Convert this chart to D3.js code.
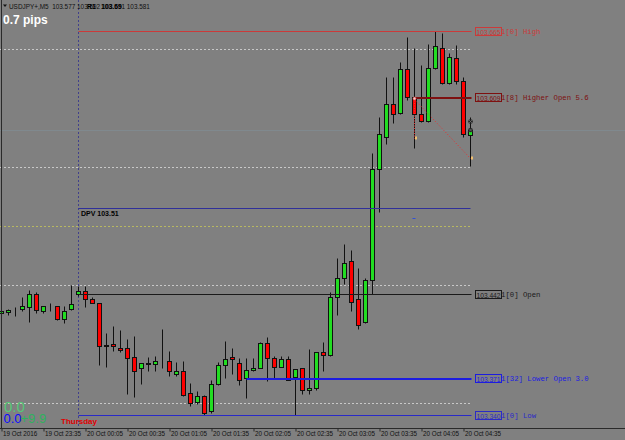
<!DOCTYPE html>
<html><head><meta charset="utf-8">
<script src="https://cdn.jsdelivr.net/npm/d3@7"></script>
<style>
html,body{margin:0;padding:0;background:#808080;}
svg{display:block;}
</style></head>
<body>
<svg id="c" width="625" height="440"></svg>
<script>
// ---------------- data ----------------
const startTime = "2016-10-19T23:05:00";
const open = [103.426,103.427,103.428,103.430,103.431,103.442,103.428,103.432,103.432,103.421,
103.430,103.442,103.445,103.438,103.435,103.398,103.400,103.397,103.397,103.389,
103.380,103.384,103.383,103.386,103.386,103.375,103.377,103.359,103.351,103.356,
103.343,103.366,103.382,103.389,103.384,103.371,103.378,103.380,103.401,103.388,
103.381,103.387,103.372,103.380,103.361,103.363,103.393,103.391,103.440,103.456,
103.470,103.438,103.419,103.454,103.548,103.575,103.603,103.596,103.633,103.609,
103.595,103.589,103.634,103.651,103.621,103.642,103.623,103.577];
const high = [103.430,103.430,103.431,103.440,103.446,103.444,103.432,103.435,103.432,103.432,
103.450,103.449,103.449,103.440,103.435,103.409,103.415,103.412,103.404,103.407,
103.384,103.389,103.390,103.413,103.394,103.385,103.386,103.367,103.360,103.357,
103.370,103.385,103.403,103.397,103.388,103.388,103.388,103.402,103.406,103.390,
103.390,103.390,103.379,103.380,103.396,103.393,103.402,103.444,103.473,103.485,
103.480,103.464,103.456,103.562,103.592,103.626,103.626,103.639,103.660,103.651,
103.636,103.654,103.665,103.663,103.646,103.653,103.626,103.592];
const low = [103.410,103.425,103.424,103.428,103.419,103.426,103.426,103.428,103.420,103.418,
103.429,103.441,103.431,103.435,103.382,103.381,103.394,103.393,103.358,103.355,
103.366,103.377,103.377,103.380,103.373,103.373,103.356,103.348,103.349,103.340,
103.342,103.365,103.371,103.375,103.365,103.354,103.377,103.380,103.369,103.371,
103.381,103.370,103.340,103.358,103.358,103.361,103.377,103.390,103.425,103.451,
103.428,103.413,103.418,103.442,103.512,103.569,103.587,103.595,103.607,103.566,
103.588,103.588,103.633,103.620,103.620,103.620,103.575,103.551];
const close = [103.428,103.429,103.428,103.432,103.442,103.429,103.432,103.432,103.421,103.428,
103.434,103.445,103.438,103.435,103.398,103.399,103.398,103.395,103.388,103.377,
103.384,103.383,103.386,103.386,103.377,103.377,103.357,103.350,103.356,103.342,
103.366,103.382,103.387,103.387,103.370,103.378,103.380,103.401,103.388,103.381,
103.387,103.370,103.379,103.361,103.363,103.393,103.391,103.440,103.456,103.469,
103.436,103.416,103.454,103.548,103.578,103.603,103.595,103.633,103.609,103.595,
103.589,103.634,103.652,103.621,103.643,103.623,103.578,103.581];

const tickLabels = ["19 Oct 2016","19 Oct 23:35","20 Oct 00:05","20 Oct 00:35","20 Oct 01:05","20 Oct 01:35",
  "20 Oct 02:05","20 Oct 02:35","20 Oct 03:05","20 Oct 03:35","20 Oct 04:05","20 Oct 04:35"];
const tickBars = [0,6,12,18,24,30,36,42,48,54,60,66];

const levelPrices = [103.665,103.609,103.442,103.371,103.340];
const levelPriceText = ["103.665","103.609","103.442","103.371","103.340"];
const levelTags = ["1[0] High","1[8] Higher Open 5.6","1[0] Open","1[32] Lower Open 3.0","1[0] Low"];
const levelStartBar = [11,59,11,35,11];
const levelColors = ["#cc3a3a","#7e1010","#1a1a1a","#1c1ce0","#2a2ac8"];
const levelWidths = [1,2,1,2,1];

const dottedGray = [103.65,103.55,103.45,103.35];
const dottedYellow = [103.50];
const dpvPrice = 103.515;
const bidPrice = 103.581;
const header = "USDJPY+,M5  103.577 103.592 103.551 103.581";

// ---------------- scales ----------------
const svg = d3.select("#c");
const W = 625, H = 440;
const t0 = new Date(startTime);
const barTime = i => d3.timeMinute.offset(t0, 5*i);
const n = open.length;
const x = d3.scaleTime().domain([barTime(0), barTime(n-1)]).range([1.5, 470.5]);
const y = d3.scaleLinear().domain([103.340, 103.665]).range([415.5, 31.5]);
const cx = i => Math.round(x(barTime(i)) - 0.5) + 0.5;
const py = p => Math.round(y(p) - 0.5) + 0.5;
const axisY = 428.5;
const plotRight = 470.5;

svg.append("rect").attr("width",W).attr("height",H).attr("fill","#808080");

// dotted levels
svg.selectAll(".dg").data(dottedGray).enter().append("line")
  .attr("x1",0).attr("x2",plotRight).attr("y1",d=>py(d)).attr("y2",d=>py(d))
  .attr("stroke","#c8c8c8").attr("stroke-dasharray","2,2").attr("stroke-width",1);
svg.selectAll(".dy").data(dottedYellow).enter().append("line")
  .attr("x1",0).attr("x2",plotRight).attr("y1",d=>py(d)).attr("y2",d=>py(d))
  .attr("stroke","#b8b860").attr("stroke-dasharray","2,2").attr("stroke-width",1);

// bid line
svg.append("line").attr("x1",0).attr("x2",W).attr("y1",py(bidPrice)).attr("y2",py(bidPrice))
  .attr("stroke","#80898e").attr("stroke-width",1);

// day separator
svg.append("line").attr("x1",cx(11)).attr("x2",cx(11)).attr("y1",0).attr("y2",axisY)
  .attr("stroke","#40408c").attr("stroke-dasharray","2,2").attr("stroke-width",1);

// candles
const bars = d3.range(n);
const g = svg.append("g");
g.selectAll(".wick").data(bars).enter().append("line")
  .attr("x1",cx).attr("x2",cx).attr("y1",i=>py(high[i])).attr("y2",i=>py(low[i]))
  .attr("stroke","#111").attr("stroke-width",1);
g.selectAll(".body").data(bars).enter().append("rect")
  .attr("x",i=>cx(i)-2).attr("width",4)
  .attr("y",i=>py(Math.max(open[i],close[i])))
  .attr("height",i=>Math.max(0, py(Math.min(open[i],close[i])) - py(Math.max(open[i],close[i]))))
  .attr("fill",i=>close[i]>=open[i] ? "#22dd22" : "#ff0000")
  .attr("stroke","#111").attr("stroke-width",1);

// DPV line
svg.append("line").attr("x1",cx(11)).attr("x2",plotRight).attr("y1",py(dpvPrice)).attr("y2",py(dpvPrice))
  .attr("stroke","#30309a").attr("stroke-width",1);
svg.append("text").attr("x",81).attr("y",py(dpvPrice)+7).attr("font-family","Liberation Sans, Arial")
  .attr("font-size",7).attr("font-weight","bold").attr("fill","#000").text("DPV   103.51");

// level lines + labels
levelPrices.forEach((p,k)=>{
  const yy = levelWidths[k]===2 ? Math.round(y(p)) : py(p);
  svg.append("line").attr("x1",cx(levelStartBar[k])).attr("x2",plotRight+1).attr("y1",yy).attr("y2",yy)
    .attr("stroke",levelColors[k]).attr("stroke-width",levelWidths[k]);
  const by = py(p);
  svg.append("rect").attr("x",475.5).attr("y",by-4).attr("width",26).attr("height",8)
    .attr("fill","none").attr("stroke",levelColors[k]).attr("stroke-width",1);
  svg.append("text").attr("x",476.5).attr("y",by+3).attr("font-family","Liberation Sans, Arial")
    .attr("font-size",7.4).attr("textLength",24).attr("lengthAdjust","spacingAndGlyphs")
    .attr("fill",levelColors[k]).text(levelPriceText[k]);
  svg.append("text").attr("x",501).attr("y",by+2.5).attr("font-family","Liberation Mono, DejaVu Sans Mono, monospace")
    .attr("font-size",7.3).attr("fill",levelColors[k]).text(levelTags[k]);
});

// red dotted projections from higher open
const hoX = cx(59), hoY = py(103.609);
svg.append("line").attr("x1",hoX).attr("x2",cx(67)).attr("y1",hoY+2).attr("y2",py(103.551)-8)
  .attr("stroke","#e83030").attr("stroke-dasharray","1,2").attr("stroke-width",1);
svg.append("line").attr("x1",hoX).attr("x2",hoX).attr("y1",hoY+3).attr("y2",py(103.566)-10)
  .attr("stroke","#e83030").attr("stroke-dasharray","1,1.5").attr("stroke-width",1);
svg.append("circle").attr("cx",hoX).attr("cy",hoY+1).attr("r",1.5).attr("fill","#f6d0d0").attr("stroke","#e04040").attr("stroke-width",0.6);
svg.append("rect").attr("x",hoX+0.5).attr("y",py(103.566)-12).attr("width",2).attr("height",3).attr("fill","#f0c070");
svg.append("rect").attr("x",cx(67)+0.5).attr("y",py(103.551)-10).attr("width",2).attr("height",3).attr("fill","#f0c070");
// arrows near last bar
[121.5,130].forEach(yy=>{
  svg.append("circle").attr("cx",cx(67)).attr("cy",yy).attr("r",2.3).attr("fill","#222");
  svg.append("path").attr("d",`M${cx(67)-1.5},${yy-1.5}L${cx(67)+1.5},${yy+1.5}M${cx(67)+1.5},${yy-1.5}L${cx(67)-1.5},${yy+1.5}`)
    .attr("stroke","#777").attr("stroke-width",0.7);
});
// small blue dash
svg.append("line").attr("x1",cx(59)-2).attr("x2",cx(59)+1).attr("y1",218.5).attr("y2",218.5)
  .attr("stroke","#3050d8").attr("stroke-width",1);

// frame & axis
svg.append("line").attr("x1",1.5).attr("x2",1.5).attr("y1",0).attr("y2",axisY).attr("stroke","#2a2a2a");
svg.append("line").attr("x1",0).attr("x2",W).attr("y1",axisY).attr("y2",axisY).attr("stroke","#2a2a2a");
const tickDates = tickBars.map(barTime);
const axis = d3.axisBottom(x).tickValues(tickDates).tickSize(3).tickPadding(1)
  .tickFormat((d,i)=>tickLabels[i]);
const ax = svg.append("g").attr("transform",`translate(0,${axisY})`).call(axis);
ax.select(".domain").remove();
ax.selectAll(".tick line").attr("stroke","#2a2a2a");
ax.selectAll(".tick text").attr("text-anchor","start").attr("dx",1).attr("dy","0.55em")
  .attr("font-family","Liberation Sans, Arial").attr("font-size",6.3).attr("fill","#111");

// header
svg.append("path").attr("d","M3,4.5L7,4.5L5,7Z").attr("fill","#111");
svg.append("text").attr("x",9).attr("y",8.5).attr("font-family","Liberation Sans, Arial")
  .attr("font-size",6.4).attr("fill","#111").attr("xml:space","preserve").text(header);
svg.append("text").attr("x",87).attr("y",8.5).attr("font-family","Liberation Sans, Arial")
  .attr("font-size",6.8).attr("font-weight","bold").attr("fill","#000").text("R1");
svg.append("text").attr("x",101).attr("y",8.5).attr("font-family","Liberation Sans, Arial")
  .attr("font-size",6.8).attr("font-weight","bold").attr("fill","#000").text("103.69");
svg.append("text").attr("x",3).attr("y",24).attr("font-family","Liberation Sans, Arial")
  .attr("font-size",12).attr("font-weight","bold").attr("fill","#fff").text("0.7 pips");

// bottom-left stats
svg.append("text").attr("x",4).attr("y",411.5).attr("font-family","Liberation Sans, Arial")
  .attr("font-size",15).attr("fill","#55c878").text("0.0");
svg.append("text").attr("x",3.5).attr("y",422.5).attr("font-family","Liberation Sans, Arial")
  .attr("font-size",13).attr("fill","#0a0aff").text("0.0");
svg.append("text").attr("x",20.5).attr("y",422.5).attr("font-family","Liberation Sans, Arial")
  .attr("font-size",13).attr("fill","#2db35d").text("+9.9");
svg.append("text").attr("x",61).attr("y",424).attr("font-family","Liberation Sans, Arial")
  .attr("font-size",8).attr("font-weight","bold").attr("fill","#e00000").text("Thursday");
</script>
</body></html>
